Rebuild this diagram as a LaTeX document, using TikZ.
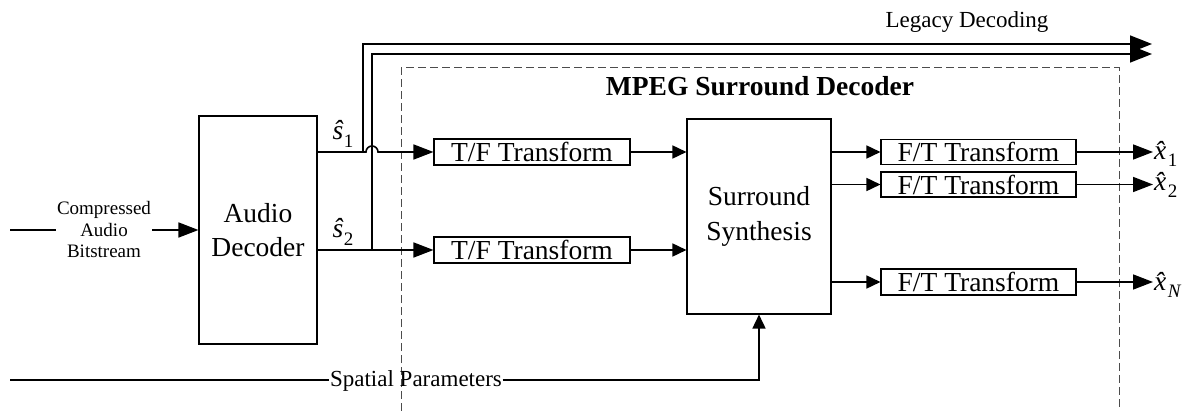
\documentclass[tikz,border=0pt]{standalone}
\usepackage{fontspec}
\setmainfont{Liberation Serif}
\usetikzlibrary{arrows.meta}
\newcommand\fsz[2]{\fontsize{#1pt}{#2pt}\selectfont}
% italic signal name (with its circumflex) and a lowered subscript;
% the optional kern pulls the subscript back after a combining accent
\newcommand\sigvar[3][0.02em]{\mbox{\textit{#2}\kern#1\raisebox{-0.28em}{\fsz{19}{20}#3}}}
\tikzset{
  box/.style={draw, line width=1.1pt, inner sep=0pt, align=center},
  blockbox/.style={box, font=\fsz{27.5}{34}},
  xform/.style={box, font=\fsz{27.5}{30}, minimum width=196pt, minimum height=26pt},
  wire/.style={line width=1.6pt},
  bigarr/.style={wire, -{Triangle[length=20pt,width=15pt]}},
  legarr/.style={wire, -{Triangle[length=22pt,width=17pt]}},
  smallarr/.style={wire, -{Triangle[length=14pt,width=13pt]}},
  frame/.style={draw=black!70, line width=1pt, dash pattern=on 8pt off 4pt},
  sig/.style={font=\fsz{27.5}{30}, inner sep=1pt},
}
\begin{document}
\begin{tikzpicture}[x=1pt,y=-1pt]
\useasboundingbox (0,0) rectangle (1190,411);

% decoder frame (open at the bottom)
\draw[frame] (401,411) -- (401,68) -- (1119,68) -- (1119,411);
\node[font=\bfseries\fsz{27.5}{30}] (title) at (760,86) {MPEG Surround Decoder};

% blocks
\node[blockbox, minimum width=118pt, minimum height=228pt] (audio) at (258,230) {Audio\\Decoder};
\node[blockbox, minimum width=144pt, minimum height=195pt, font=\fsz{27.5}{35}] (surr) at (759,216.5) {Surround\\Synthesis};
\node[xform] (tf1) at (532,152) {T/F Transform};
\node[xform] (tf2) at (532,250) {T/F Transform};
\node[xform, minimum width=195pt, minimum height=25pt] (ft1) at (978.5,152) {F/T Transform};
\node[xform, minimum width=195pt, minimum height=25pt] (ft2) at (978.5,184.5) {F/T Transform};
\node[xform, minimum width=195pt, minimum height=26pt] (ftN) at (978.5,282) {F/T Transform};

% input bitstream
\coordinate (cin) at (10,230);
\node[font=\fsz{19}{21.5}, align=center, inner sep=1pt] (cab) at (104,230) {Compressed\\Audio\\Bitstream};
\draw[wire] (cin) -- (cab.west);
\draw[bigarr] (cab.east) -- (audio.west);

% decoded downmix signals
\coordinate (hop) at (372,152);
\coordinate (j1) at (363,152);
\coordinate (j2) at (372,250);
\draw[bigarr] (audio.east |- tf1.west) -- ([xshift=-6pt]hop) arc[start angle=180,end angle=0,radius=6pt] -- (tf1.west);
\draw[bigarr] (audio.east |- tf2.west) -- (tf2.west);
\node[sig] (s1) at (343,134) {\sigvar{ŝ}{1}};
\node[sig] (s2) at (343,232) {\sigvar{ŝ}{2}};

% legacy path
\coordinate (leg1) at (1152,44);
\coordinate (leg2) at (1152,54);
\draw[legarr] (j1) |- (leg1);
\draw[legarr] (j2) |- (leg2);
\node[font=\fsz{23}{26}] (legacy) at (967,22) {Legacy Decoding};

% into and out of the synthesis block
\draw[smallarr] (tf1.east) -- (tf1.east -| surr.west);
\draw[smallarr] (tf2.east) -- (tf2.east -| surr.west);
\draw[smallarr] (surr.east |- ft1.west) -- (ft1.west);
\draw[smallarr] (surr.east |- ft2.west) -- (ft2.west);
\draw[smallarr] (surr.east |- ftN.west) -- (ftN.west);

% outputs
\node[sig, anchor=west] (x1) at (1153,154) {\sigvar[-0.32em]{x̂}{1}};
\node[sig, anchor=west] (x2) at (1153,185) {\sigvar[-0.32em]{x̂}{2}};
\node[sig, anchor=west] (xN) at (1153,285) {\sigvar[-0.32em]{x̂}{\textit{N}}};
\draw[bigarr] (ft1.east) -- (ft1.east -| x1.west);
\draw[bigarr] (ft2.east) -- (ft2.east -| x2.west);
\draw[bigarr] (ftN.east) -- (ftN.east -| xN.west);

% spatial side information
\coordinate (sp0) at (10,380);
\node[font=\fsz{23}{26}, inner sep=0.5pt] (sp) at (416,381) {Spatial Parameters};
\draw[wire] (sp0) -- (sp0 -| sp.west);
\draw[smallarr] (sp.east |- sp0) -| (surr.south);
\end{tikzpicture}
\end{document}
